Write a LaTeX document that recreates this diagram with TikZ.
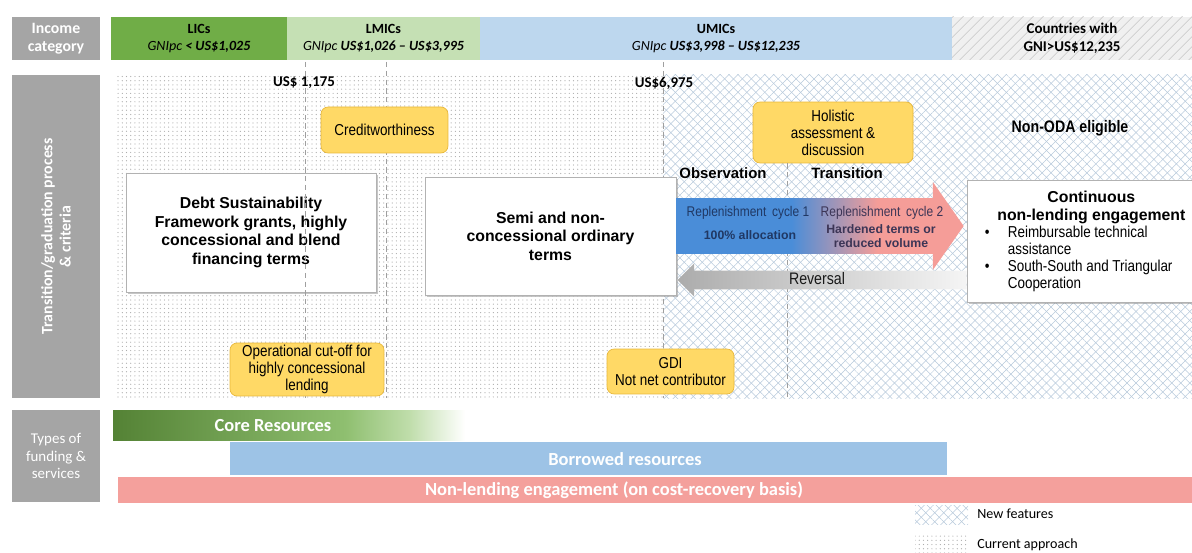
\documentclass[tikz,border=0pt]{standalone}
\usepackage{fontspec}
\setmainfont{Liberation Sans}
\newfontfamily\calfont{Carlito}
\newfontfamily\narrowfont[FakeStretch=0.85]{Liberation Sans}
\usetikzlibrary{positioning, patterns.meta, shapes.arrows, shadows}

\definecolor{headgrey}{HTML}{A5A5A5}
\definecolor{licgreen}{HTML}{70AD47}
\definecolor{lmicgreen}{HTML}{C5E0B4}
\definecolor{umicblue}{HTML}{BDD7EE}
\definecolor{critfill}{HTML}{FFD966}
\definecolor{critline}{HTML}{E9B83A}
\definecolor{cycleblue}{HTML}{4A8DD8}
\definecolor{cyclepink}{HTML}{F59D98}
\definecolor{coredark}{HTML}{548235}
\definecolor{coremid}{HTML}{8FBF70}
\definecolor{corelight}{HTML}{BFDDAA}
\definecolor{borrowblue}{HTML}{9DC3E6}
\definecolor{nonlendpink}{HTML}{F4A09C}
\definecolor{hatchblue}{HTML}{B7C9DB}
\definecolor{cycletext}{HTML}{203864}
\definecolor{hardtext}{HTML}{3C3556}

\pgfdeclarehorizontalshading{cyclefade}{100bp}{color(0bp)=(cycleblue); color(45bp)=(cycleblue); color(60bp)=(cyclepink); color(100bp)=(cyclepink)}
\pgfdeclarehorizontalshading{corefade}{100bp}{color(0bp)=(coredark); color(25bp)=(coredark); color(58bp)=(coremid); color(67bp)=(corelight); color(75bp)=(white); color(100bp)=(white)}

\begin{document}
\begin{tikzpicture}[x=0.02cm, y=-0.02cm,
    rowhead/.style={fill=headgrey, text=white, font=\calfont\fontsize{9}{10.5}\selectfont\bfseries, align=center, inner sep=0pt},
    band/.style={inner sep=0pt, minimum height=0.86cm, align=center, font=\calfont\fontsize{8}{9.5}\selectfont},
    termbox/.style={draw=gray!60, fill=white, drop shadow={shadow xshift=1.2pt, shadow yshift=-1.2pt, opacity=0.45}, align=center, inner sep=2pt, font=\fontsize{9}{10.5}\selectfont\bfseries},
    crit/.style={draw=critline, fill=critfill, rounded corners=4pt, align=center, inner sep=1pt, font=\narrowfont\fontsize{9}{9.6}\selectfont},
    cutline/.style={gray!75, line width=0.5pt, dash pattern=on 3pt off 2pt},
    threshold/.style={font=\calfont\fontsize{8.5}{10}\selectfont\bfseries, inner sep=1pt},
    phase/.style={font=\fontsize{8.5}{10}\selectfont\bfseries, inner sep=1pt},
    cyclelab/.style={font=\narrowfont\fontsize{8}{9}\selectfont, text=cycletext, inner sep=0pt},
    fatarrow/.style={single arrow, inner xsep=0pt, anchor=tail},
    fundbar/.style={inner sep=0pt, shade},
    fundtext/.style={text=white, font=\calfont\fontsize{10.5}{12}\selectfont\bfseries, inner sep=0pt},
    legendlab/.style={anchor=west, font=\calfont\fontsize{8}{9}\selectfont, inner sep=0pt},
    current/.style={pattern={Dots[distance=2.4pt, radius=0.35pt]}, pattern color=gray!65},
    newfeat/.style={preaction={pattern={Lines[angle=45, distance=3.6pt, line width=0.3pt]}, pattern color=hatchblue},
        pattern={Lines[angle=-45, distance=3.6pt, line width=0.3pt]}, pattern color=hatchblue}
]
\useasboundingbox (0,0) rectangle (1192,553);

% income categories
\node[rowhead, minimum width=1.76cm, minimum height=0.86cm] (inchead) at (56,38.5) {Income\\category};
\node[band, fill=licgreen, minimum width=3.52cm] (lic) at (199,38.5) {\textbf{LICs}\\\textit{GNIpc \textbf{< US\$1,025}}};
\node[band, fill=lmicgreen, minimum width=3.86cm] (lmic) at (383.5,38.5) {\textbf{LMICs}\\\textit{GNIpc \textbf{US\$1,026 – US\$3,995}}};
\node[band, fill=umicblue, minimum width=9.44cm] (umic) at (716,38.5) {\textbf{UMICs}\\\textit{GNIpc \textbf{US\$3,998 – US\$12,235}}};
\node[band, preaction={fill=gray!12}, pattern={Lines[angle=45, distance=4pt, line width=0.4pt]}, pattern color=gray!45,
    minimum width=4.8cm, font=\calfont\fontsize{8.5}{10}\selectfont\bfseries] (rich) at (1072,38.5) {Countries with\\GNI>US\$12,235};

% transition / graduation process
\node[rowhead, rotate=90, minimum width=6.46cm, minimum height=1.76cm] (prochead) at (56,236.5) {Transition/graduation process\\\& criteria};
\path[current] (115,75) rectangle (663,398);
\path[newfeat] (663,75) rectangle (1192,398);

\node[termbox, minimum width=5cm, minimum height=2.38cm] (dsf) at (251,232.5) {Debt Sustainability\\Framework grants, highly\\concessional and blend\\financing terms};

\foreach \cx in {305, 386, 663}
    \draw[cutline] (\cx,62) -- (\cx,398);

\node[crit, minimum width=3.2cm, minimum height=1.22cm] (holistic) at (833,132.5) {Holistic\\assessment \&\\discussion};
\draw[cutline] (holistic.south -| 787,0) -- (787,398);

\node[threshold] (low) at (304,83) {US\$ 1,175};
\node[threshold] (high) at (664,83) {US\$6,975};
\node[crit, minimum width=2.54cm, minimum height=0.92cm] (credit) at (384.5,130) {Creditworthiness};
\node[font=\narrowfont\fontsize{9.5}{11}\selectfont\bfseries] (nonoda) at (1070,128) {Non-ODA eligible};
\node[phase] (observe) at (723,173) {Observation};
\node[phase] (transit) at (847,173) {Transition};

\node[termbox, minimum width=5.02cm, minimum height=2.36cm] (semi) at (550.5,236) {Semi and non-\\concessional ordinary\\terms};

\node[termbox, minimum width=4.96cm, minimum height=2.44cm, anchor=west, inner sep=0pt] (cont) at (967,241) {%
    \parbox{4.9cm}{\centering\fontsize{9}{10.5}\selectfont\bfseries Continuous\\non-lending engagement\par
    \raggedright\narrowfont\mdseries\fontsize{9}{9.6}\selectfont
    \makebox[0.78cm][l]{\hspace{0.32cm}\textbullet}Reimbursable technical\\
    \hspace*{0.78cm}assistance\\
    \makebox[0.78cm][l]{\hspace{0.32cm}\textbullet}South-South and Triangular\\
    \hspace*{0.78cm}Cooperation}};

\node[fatarrow, shade, shading=cyclefade, minimum height=5.74cm, inner ysep=0.55cm,
    single arrow head extend=0.32cm, single arrow tip angle=110] (cycles) at (semi.east |- 0,226) {};
\node[fatarrow, shape border rotate=180, left color=gray!65, right color=gray!8, minimum height=5.78cm, inner ysep=0.18cm,
    single arrow head extend=0.14cm, single arrow tip angle=90] (reversal) at (cont.west |- 0,280) {};

\node[cyclelab] (cycle1) at (748,213) {Replenishment\, cycle 1};
\node[font=\fontsize{7}{8}\selectfont\bfseries, text=cycletext, inner sep=0pt] (alloc) at (750,235) {100\% allocation};
\node[cyclelab, text=hardtext] (cycle2) at (882,213) {Replenishment\, cycle 2};
\node[font=\fontsize{7}{8}\selectfont\bfseries, text=hardtext, align=center, inner sep=0pt] (harden) at (881,236) {Hardened terms or\\reduced volume};
\node[font=\narrowfont\fontsize{9.5}{11}\selectfont, text=gray!20!black, inner sep=0pt] (revlab) at (817,279) {Reversal};

\node[crit, minimum width=3.08cm, minimum height=1.06cm] (cutoff) at (307,369.5) {Operational cut-off for\\highly concessional\\lending};
\node[crit, minimum width=2.54cm, minimum height=0.9cm] (gdi) at (670.5,371.5) {GDI\\Not net contributor};

% types of funding and services
\node[rowhead, font=\calfont\fontsize{8.5}{10}\selectfont, minimum width=1.76cm, minimum height=1.86cm] (fundhead) at (56,456) {Types of\\funding \&\\services};
\node[fundbar, shading=corefade, minimum width=7.04cm, minimum height=0.62cm] (core) at (289,425.5) {};
\node[fundbar, fill=borrowblue, shade=false, minimum width=14.34cm, minimum height=0.66cm] (borrow) at (588.5,458.5) {};
\node[fundbar, fill=nonlendpink, shade=false, minimum width=21.64cm, minimum height=0.52cm] (nonlend) at (659,490) {};
\node[fundtext] (coretext) at (273,426) {Core Resources};
\node[fundtext] (borrowtext) at (625,459) {Borrowed resources};
\node[fundtext] (nonlendtext) at (614,490) {Non-lending engagement (on cost-recovery basis)};

% legend
\path[newfeat] (915,505) rectangle (968,524);
\node[legendlab] (newlab) at (977,514) {New features};
\path[current] (915,533) rectangle (968,553);
\node[legendlab] (curlab) at (977,545) {Current approach};
\end{tikzpicture}
\end{document}
